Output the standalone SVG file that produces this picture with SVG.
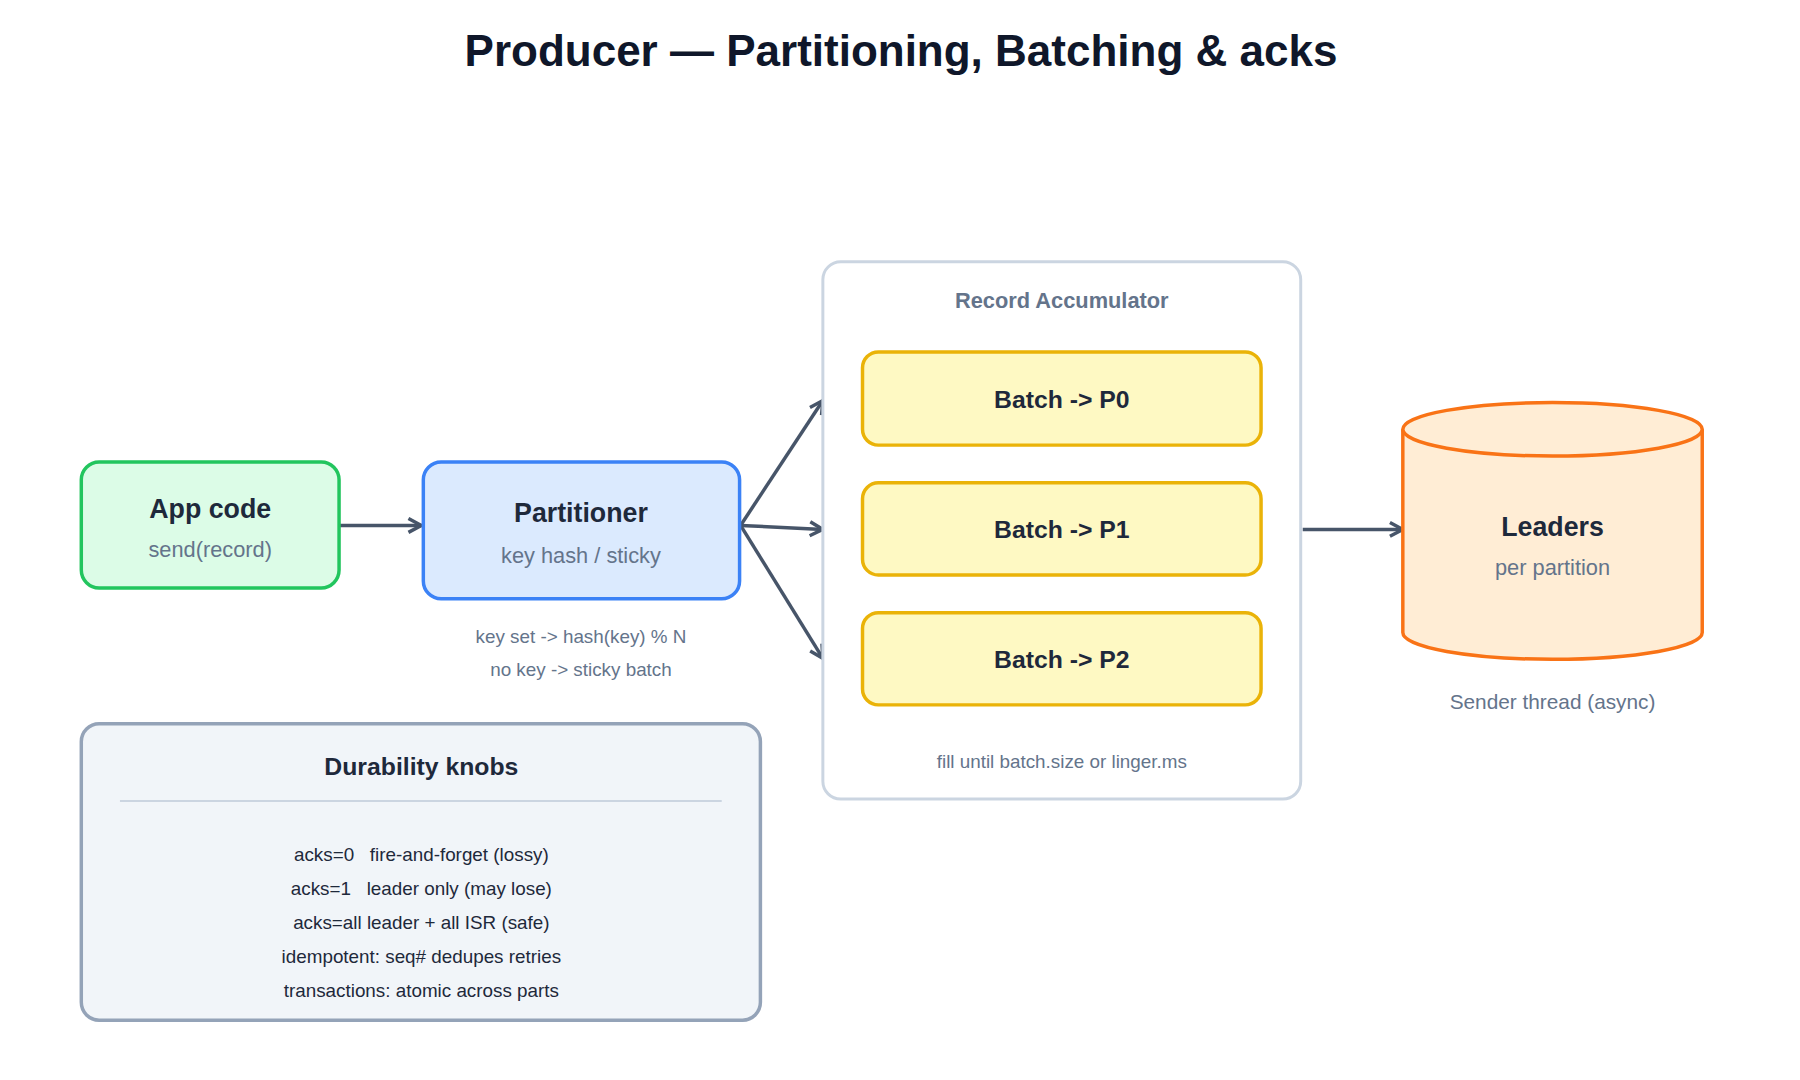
<svg xmlns="http://www.w3.org/2000/svg" width="1800" height="1080" viewBox="0 0 1800 1080">
<style>
text{font-family:"Liberation Sans",Arial,sans-serif;text-anchor:middle}
.t{font-size:27px;font-weight:bold;fill:#1e293b}
.s{font-size:22px;fill:#64748b}
.n{font-size:19px;fill:#64748b}
.k{font-size:19px;fill:#1e293b}
.c{stroke:#475569;stroke-width:3.5;fill:none;marker-end:url(#a)}
</style>
<defs><marker id="a" markerWidth="18" markerHeight="18" refX="15" refY="9" orient="auto" markerUnits="userSpaceOnUse"><path d="M2,2 L15,9 L2,16" fill="none" stroke="#475569" stroke-width="3.5"/></marker></defs>
<rect width="1800" height="1080" fill="#fff"/>
<text x="901" y="66" style="font-size:44px;font-weight:bold;fill:#0f172a">Producer — Partitioning, Batching &amp; acks</text>
<g transform="scale(0.9914)">
<g id="connectors">
<line class="c" x1="343" y1="530" x2="425" y2="530"/>
<line class="c" x1="747" y1="530" x2="830" y2="404"/>
<line class="c" x1="747" y1="530" x2="830" y2="534"/>
<line class="c" x1="747" y1="530" x2="830" y2="664"/>
<line class="c" x1="1314" y1="534" x2="1415" y2="534"/>
</g>
<g id="app"><rect x="82" y="466" width="260" height="127" rx="18" fill="#dcfce7" stroke="#22c55e" stroke-width="3.5"/>
<text class="t" x="212" y="522">App code</text><text class="s" x="212" y="562">send(record)</text></g>
<g id="partitioner"><rect x="427" y="466" width="319" height="138" rx="18" fill="#dbeafe" stroke="#3b82f6" stroke-width="3.5"/>
<text class="t" x="586" y="527">Partitioner</text><text class="s" x="586" y="568">key hash / sticky</text>
<text class="n" x="586" y="649">key set -&gt; hash(key) % N</text><text class="n" x="586" y="682">no key -&gt; sticky batch</text></g>
<g id="accumulator"><rect x="830" y="264" width="482" height="542" rx="18" fill="#fff" stroke="#cbd5e1" stroke-width="3"/>
<text x="1071" y="311" style="font-size:22px;font-weight:bold;fill:#64748b">Record Accumulator</text>
<text class="n" x="1071" y="775">fill until batch.size or linger.ms</text></g>
<g id="b0"><rect x="870" y="355" width="402" height="94" rx="16" fill="#fef9c3" stroke="#eab308" stroke-width="3.5"/><text class="t" x="1071" y="412" style="font-size:25px">Batch -&gt; P0</text></g>
<g id="b1"><rect x="870" y="487" width="402" height="93" rx="16" fill="#fef9c3" stroke="#eab308" stroke-width="3.5"/><text class="t" x="1071" y="543" style="font-size:25px">Batch -&gt; P1</text></g>
<g id="b2"><rect x="870" y="618" width="402" height="93" rx="16" fill="#fef9c3" stroke="#eab308" stroke-width="3.5"/><text class="t" x="1071" y="674" style="font-size:25px">Batch -&gt; P2</text></g>
<g id="leaders">
<path d="M1415,433 L1415,638 A151,27 0 0 0 1717,638 L1717,433" fill="#ffedd5" stroke="#f97316" stroke-width="3.5"/>
<ellipse cx="1566" cy="433" rx="151" ry="27" fill="#ffedd5" stroke="#f97316" stroke-width="3.5"/>
<text class="t" x="1566" y="541">Leaders</text><text class="s" x="1566" y="580">per partition</text>
<text class="s" x="1566" y="715" style="font-size:21px">Sender thread (async)</text></g>
<g id="knobs"><rect x="82" y="730" width="685" height="299" rx="18" fill="#f1f5f9" stroke="#94a3b8" stroke-width="3.5"/>
<text class="t" x="425" y="782" style="font-size:25px">Durability knobs</text>
<line x1="121" y1="808" x2="728" y2="808" stroke="#cbd5e1" stroke-width="2"/>
<text class="k" x="425" y="868" xml:space="preserve">acks=0   fire-and-forget (lossy)</text>
<text class="k" x="425" y="903" xml:space="preserve">acks=1   leader only (may lose)</text>
<text class="k" x="425" y="937">acks=all leader + all ISR (safe)</text>
<text class="k" x="425" y="971">idempotent: seq# dedupes retries</text>
<text class="k" x="425" y="1006">transactions: atomic across parts</text></g>
</g>
</svg>
